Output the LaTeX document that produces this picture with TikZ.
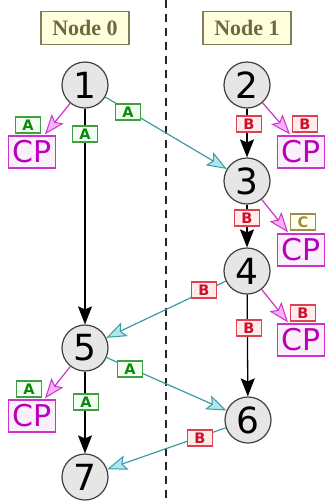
\documentclass[tikz,border=0pt]{standalone}
\usepackage{fontspec}
\setmainfont{DejaVu Sans}
\newfontfamily\hdrfont{Liberation Serif}
\usetikzlibrary{arrows.meta}
\definecolor{hdrtext}{HTML}{6B6B40}
\definecolor{hdrdraw}{HTML}{808058}
\definecolor{hdrfill}{HTML}{FFFFDD}
\definecolor{circfill}{HTML}{E6E6E6}
\definecolor{circdraw}{HTML}{404040}
\definecolor{cptext}{HTML}{BB00BB}
\definecolor{cpdraw}{HTML}{CC33CC}
\definecolor{cpfill}{HTML}{FAF0FC}
\definecolor{cphead}{HTML}{F8B0F8}
\definecolor{teal}{HTML}{3A9AA6}
\definecolor{tealhead}{HTML}{AEE8EE}
\definecolor{atext}{HTML}{0A8A0A}
\definecolor{adraw}{HTML}{40A040}
\definecolor{afill}{HTML}{F2FFF2}
\definecolor{btext}{HTML}{D0102A}
\definecolor{bdraw}{HTML}{E04050}
\definecolor{bfill}{HTML}{FFECEC}
\definecolor{ctext}{HTML}{A08A3A}
\definecolor{cdraw}{HTML}{A08A50}
\definecolor{cfill}{HTML}{FFFFF0}
\tikzset{
  hdr/.style={draw=hdrdraw, fill=hdrfill, line width=1.2pt, text=hdrtext, font=\hdrfont\bfseries\fontsize{22}{22}\selectfont, minimum width=88pt, minimum height=33pt, inner sep=0pt},
  circ/.style={circle, draw=circdraw, fill=circfill, line width=1.2pt, minimum size=46pt, inner sep=0pt, font=\fontsize{36}{36}\selectfont},
  cpbox/.style={draw=cpdraw, fill=cpfill, line width=1.3pt, text=cptext, font=\fontsize{30}{30}\selectfont, minimum width=47pt, minimum height=32pt, inner sep=0pt},
  lbl/.style={line width=1.2pt, minimum width=25pt, minimum height=16pt, inner sep=0pt, font=\bfseries\fontsize{14.5}{14.5}\selectfont},
  la/.style={lbl, draw=adraw, fill=afill, text=atext},
  lb/.style={lbl, draw=bdraw, fill=bfill, text=btext},
  lc/.style={lbl, draw=cdraw, fill=cfill, text=ctext},
  blk/.style={line width=1.3pt, -{Stealth[length=18pt,width=14pt,inset=3pt]}},
  tl/.style={draw=teal, line width=1.2pt, -{Stealth[length=20pt,width=15pt,inset=4pt,fill=tealhead,line width=1pt]}},
  mg/.style={draw=cpdraw, line width=1.2pt, -{Stealth[length=20pt,width=15pt,inset=4pt,fill=cphead,line width=1pt]}},
}
\begin{document}
\begin{tikzpicture}[x=1pt,y=-1pt]
\useasboundingbox (0,0) rectangle (325,504);
\coordinate (dtop) at (166,0);
\coordinate (dbot) at (166,504);
\draw[line width=1.3pt, draw=black!85, dash pattern=on 8pt off 6pt] (dtop) -- (dbot);
\node[hdr] (h0) at (85,28) {Node 0};
\node[hdr] (h1) at (247,28) {Node 1};
\node[circ] (n1) at (85,85) {1};
\node[circ] (n2) at (247,85) {2};
\node[circ] (n3) at (247,181) {3};
\node[circ] (n4) at (247,271) {4};
\node[circ] (n5) at (85,348) {5};
\node[circ] (n6) at (248,420) {6};
\node[circ] (n7) at (85,477) {7};
\node[cpbox] (cp1) at (32,152) {CP};
\node[cpbox] (cp2) at (301,152) {CP};
\node[cpbox] (cp3) at (301,250) {CP};
\node[cpbox] (cp4) at (301,340) {CP};
\node[cpbox] (cp5) at (32,416) {CP};
% black edges
\draw[blk] (n1) -- (n5);
\draw[blk] (n2) -- (n3);
\draw[blk] (n3) -- (n4);
\draw[blk] (n4) -- (n6);
\draw[blk] (n5) -- (n7);
% teal edges
\draw[tl] (n1) -- (n3);
\draw[tl] (n4) -- (n5);
\draw[tl] (n5) -- (n6);
\draw[tl] (n6) -- (n7);
% magenta edges
\draw[mg] (n1) -- ([xshift=13pt,yshift=1pt]cp1.north);
\draw[mg] (n2) -- ([xshift=-11pt,yshift=1pt]cp2.north);
\draw[mg] (n3) -- ([xshift=-13pt,yshift=1pt]cp3.north);
\draw[mg] (n4) -- ([xshift=-13pt,yshift=1pt]cp4.north);
\draw[mg] (n5) -- ([xshift=13pt,yshift=1pt]cp5.north);
% labels
\node[la] (l1) at (28,125) {A};
\node[la] (l2) at (85,134) {A};
\node[la] (l3) at (128,112) {A};
\node[lb] (l4) at (249,124) {B};
\node[lb] (l5) at (305,124) {B};
\node[lb] (l6) at (247,218) {B};
\node[lc] (l7) at (303,222) {C};
\node[lb] (l8) at (204,290) {B};
\node[lb] (l9) at (303,313) {B};
\node[lb] (l10) at (249,328) {B};
\node[la] (l11) at (130,369) {A};
\node[la] (l12) at (29,389) {A};
\node[la] (l13) at (86,402) {A};
\node[lb] (l14) at (200,438) {B};
\end{tikzpicture}
\end{document}
